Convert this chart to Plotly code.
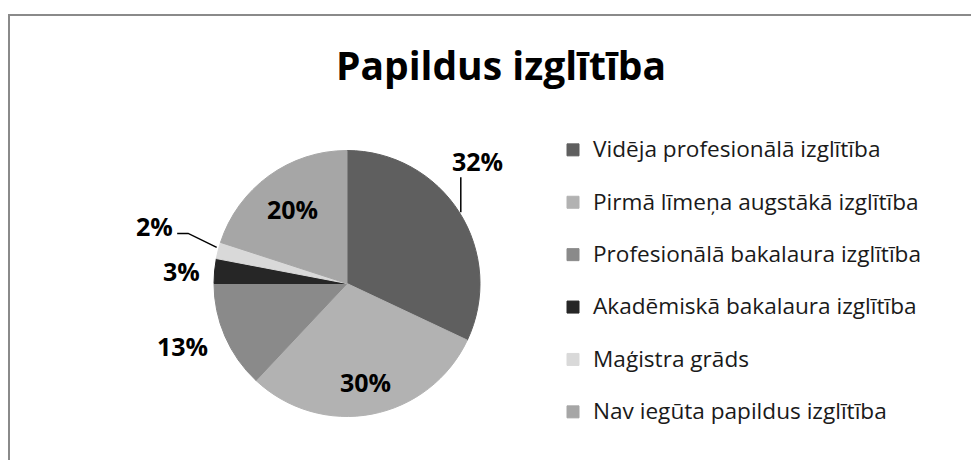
import math
import plotly.graph_objects as go

# ---- data ----
categories = [
    "Vidēja profesionālā izglītība",
    "Pirmā līmeņa augstākā izglītība",
    "Profesionālā bakalaura izglītība",
    "Akadēmiskā bakalaura izglītība",
    "Maģistra grāds",
    "Nav iegūta papildus izglītība",
]
values = [32, 30, 13, 3, 2, 20]
colors = ["#5f5f5f", "#b2b2b2", "#8a8a8a", "#262626", "#d9d9d9", "#a6a6a6"]
title_text = "Papildus izglītība"

# ---- layout geometry (pixels, page coordinates) ----
W, H = 979, 460
OFF = 8  # page body margin of the html page
cx, cy, r = 347, 283.5, 133
FONT = "Open Sans"

# label placement style: ("in", k) or ("out", dx, dy) from slice edge point
label_style = [("out", 18, -52), ("in", 0.75), ("out", -42, 9),
               ("out", -33, -1), ("out", -64, -25), ("in", 0.70)]


def px(x, y):
    return (x - OFF) / W, 1 - (y - OFF) / H


dom_x = [(cx - OFF - r) / W, (cx - OFF + r) / W]
dom_y = [1 - (cy - OFF + r) / H, 1 - (cy - OFF - r) / H]

fig = go.Figure()
fig.add_trace(go.Pie(
    labels=[f"<span style='font-size:22.6px'>{c}</span><br> " for c in categories],
    values=values,
    sort=False,
    direction="clockwise",
    rotation=0,
    marker=dict(colors=colors, line=dict(color=colors, width=1)),
    textinfo="none",
    hoverinfo="percent",
    domain=dict(x=dom_x, y=dom_y),
))

total = sum(values)
annotations = []
shapes = []
cum = 0
for v, st in zip(values, label_style):
    mid = (cum + v / 2) / total * 2 * math.pi
    cum += v
    sx, sy = math.sin(mid), -math.cos(mid)
    ex, ey = cx + r * sx, cy + r * sy
    if st[0] == "in":
        lx, ly = cx + st[1] * r * sx, cy + st[1] * r * sy
    else:
        lx, ly = ex + st[1], ey + st[2]
    ax_, ay_ = px(lx, ly + 1)
    annotations.append(dict(
        x=ax_, y=ay_, xref="paper", yref="paper", showarrow=False,
        text=f"<b>{round(v / total * 100)}%</b>", xanchor="center", yanchor="middle",
        font=dict(family=FONT, size=25, color="#000000"),
    ))
    # leader lines
    if st[0] == "out" and v == 32:
        x0, y0 = px(ex + 1.5, ey)
        x1, y1 = px(ex + 1.5, ey - 35)
        shapes.append(dict(type="line", xref="paper", yref="paper",
                           x0=x0, y0=y0, x1=x1, y1=y1,
                           line=dict(color="#000000", width=1.5)))
    if st[0] == "out" and v == 2:
        pts = [(ex - 1.5, ey - 3), (ex - 30, ey - 17), (ex - 41, ey - 17)]
        path = "M " + " L ".join(f"{px(a, b)[0]},{px(a, b)[1]}" for a, b in pts)
        shapes.append(dict(type="path", xref="paper", yref="paper", path=path,
                           line=dict(color="#000000", width=1.5)))

# chart border
bx0, by0 = px(9, 15)
bx1, by1 = px(W + 20, H + 20)
shapes.append(dict(type="rect", xref="paper", yref="paper",
                   x0=bx0, y0=by1, x1=bx1, y1=by0,
                   line=dict(color="#8a8a8a", width=2), layer="above"))

tx, ty = px(501, 66)
lgx, lgy = px(553, 131)
fig.update_layout(
    width=W, height=H,
    margin=dict(l=0, r=0, t=0, b=0),
    paper_bgcolor="#ffffff",
    plot_bgcolor="#ffffff",
    font=dict(family=FONT, color="#000000"),
    title=dict(text=f"<b>{title_text}</b>", x=tx, xanchor="center",
               y=ty, yanchor="middle",
               font=dict(family=FONT, size=39, color="#000000")),
    showlegend=True,
    legend=dict(x=lgx, xanchor="left", y=lgy, yanchor="top",
                font=dict(family=FONT, size=19, color="#1a1a1a"),
                valign="top", itemclick=False, bgcolor="rgba(0,0,0,0)"),
    annotations=annotations,
    shapes=shapes,
)

fig.write_html("out.html")
